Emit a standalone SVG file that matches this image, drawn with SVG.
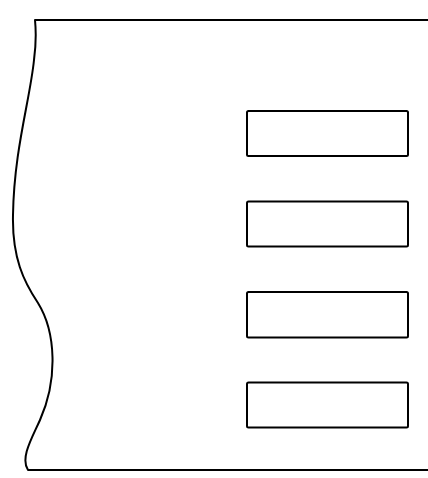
<svg xmlns="http://www.w3.org/2000/svg" width="428" height="478" viewBox="0 0 428 478">
<style>
.o{fill:none;stroke:#000;stroke-width:2;stroke-linejoin:round}
.r{fill:#fff;stroke:#000;stroke-width:2}
</style>
<rect width="428" height="478" fill="#fff"/>
<g id="outline">
<path class="o" d="M430,20 L35,20 C36,30 36,45 34,60 C30,100 14,150 13,215 C12,258 24,282 38,303 C56,332 58,380 40,420 C32,438 20,458 28,470 L430,470"/>
</g>
<g id="slot1"><rect class="r" x="247" y="111" width="161" height="45" rx="1.5"/></g>
<g id="slot2"><rect class="r" x="247" y="201.5" width="161" height="45" rx="1.5"/></g>
<g id="slot3"><rect class="r" x="247" y="292" width="161" height="45.5" rx="1.5"/></g>
<g id="slot4"><rect class="r" x="247" y="382.5" width="161" height="45" rx="1.5"/></g>
<g id="connectors"/>
</svg>
